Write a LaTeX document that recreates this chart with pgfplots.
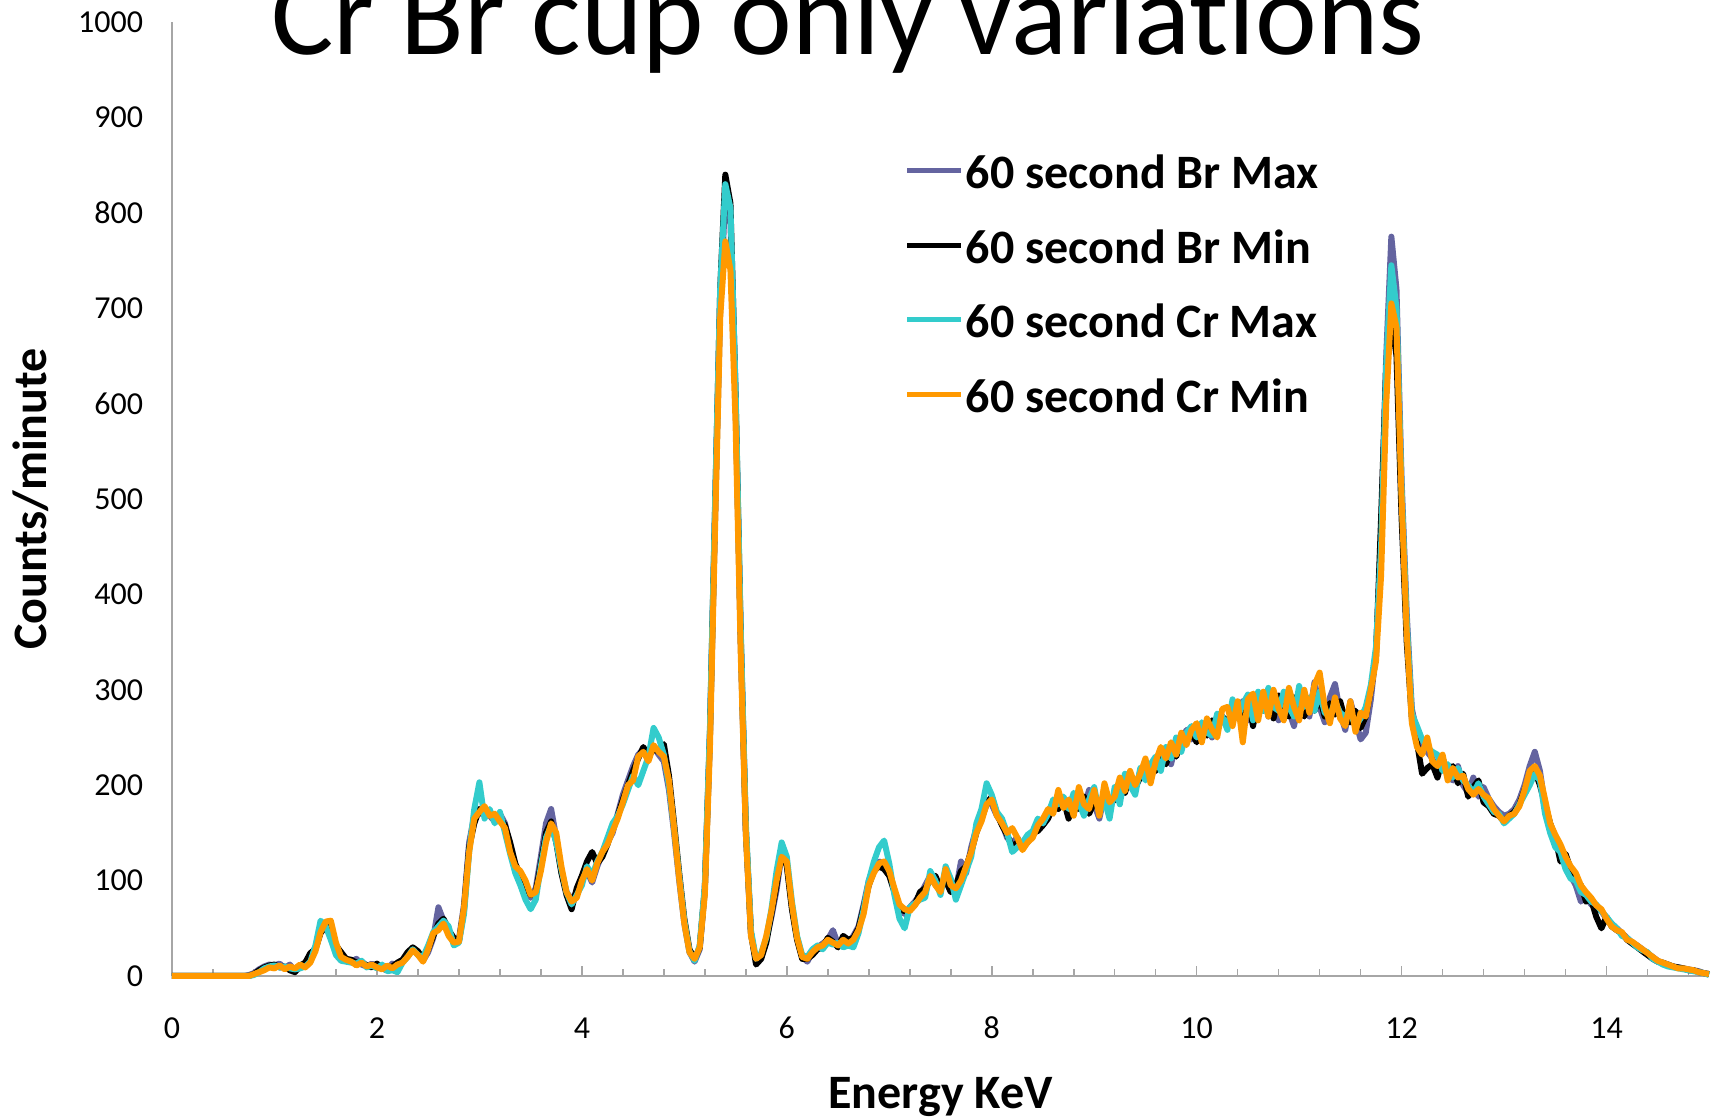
\documentclass[border=0pt]{standalone}
\usepackage{fontspec}
\setmainfont{Carlito}[Ligatures=NoCommon]
\usepackage{pgfplots}
\pgfplotsset{compat=1.18}
\usepackage{pgfplotstable}
\definecolor{brmax}{HTML}{6464A0}
\definecolor{brmin}{HTML}{000000}
\definecolor{crmax}{HTML}{33CCCC}
\definecolor{crmin}{HTML}{FF9900}
\definecolor{axgray}{HTML}{A6A6A6}

\pgfplotstableread{
E A B C D
0 0 0 0 0
0.35 0 0 0 0
0.7 0 0 0 0
0.75 1 0 0 0
0.8 3 2 1 2
0.85 7 6 4 4
0.9 10 9 8 6
0.95 12 11 10 9
1.0 11 12 11 8
1.05 13 9 9 11
1.1 8 10 10 7
1.15 12 6 8 10
1.2 5 4 7 8
1.25 9 11 8 12
1.3 12 14 10 9
1.35 22 24 15 14
1.4 30 28 32 26
1.45 48 45 58 46
1.5 55 52 52 57
1.55 45 50 38 58
1.6 28 32 22 35
1.65 20 25 16 20
1.7 16 18 15 17
1.75 15 17 14 15
1.8 18 14 13 11
1.85 12 15 16 14
1.9 10 11 9 10
1.95 13 9 11 12
2.0 9 13 8 9
2.05 11 8 12 7
2.1 7 6 5 11
2.15 13 10 6 8
2.2 10 14 4 12
2.25 16 17 14 14
2.3 22 25 20 20
2.35 28 30 28 27
2.4 24 26 22 22
2.45 16 18 20 15
2.5 25 28 32 28
2.55 40 42 46 45
2.6 72 55 52 48
2.65 58 60 58 55
2.7 45 48 52 42
2.75 35 40 32 35
2.8 38 36 35 36
2.85 75 70 65 72
2.9 140 135 130 130
2.95 168 160 175 165
3.0 170 175 203 172
3.05 172 168 165 178
3.1 168 170 175 168
3.15 162 165 160 170
3.2 170 166 172 162
3.25 160 158 150 155
3.3 135 140 128 130
3.35 112 118 108 115
3.4 100 105 95 110
3.45 90 92 80 100
3.5 82 85 70 85
3.55 92 88 80 88
3.6 125 118 115 110
3.65 160 150 145 140
3.7 175 162 158 160
3.75 145 140 140 150
3.8 110 108 112 115
3.85 88 85 88 88
3.9 80 70 75 78
3.95 88 92 85 82
4.0 100 105 95 100
4.05 110 120 115 112
4.1 98 130 105 100
4.15 115 118 120 118
4.2 128 125 130 130
4.25 140 138 145 138
4.3 150 155 160 152
4.35 170 168 168 165
4.4 190 185 180 182
4.45 205 200 195 200
4.5 220 215 210 205
4.55 232 228 200 230
4.6 238 240 215 235
4.65 235 230 230 225
4.7 240 238 260 242
4.75 232 235 250 235
4.8 225 243 232 230
4.85 195 210 200 205
4.9 150 160 155 155
4.95 100 108 105 102
5.0 55 60 58 55
5.05 25 28 26 25
5.1 15 18 16 18
5.15 28 30 32 30
5.2 90 92 95 85
5.25 250 255 260 240
5.3 480 490 495 470
5.35 700 720 720 690
5.4 820 840 830 770
5.45 790 810 805 740
5.5 600 610 615 580
5.55 350 360 365 340
5.6 150 155 160 150
5.65 45 45 48 42
5.7 15 12 18 18
5.75 22 18 24 22
5.8 38 35 40 42
5.85 62 65 70 68
5.9 90 95 110 100
5.95 128 132 140 125
6.0 118 115 125 120
6.05 72 70 78 75
6.1 40 38 42 40
6.15 20 18 22 20
6.2 15 18 20 18
6.25 25 22 28 25
6.3 30 28 32 30
6.35 34 30 28 32
6.4 38 40 35 38
6.45 48 36 33 35
6.5 33 30 35 32
6.55 38 42 30 38
6.6 35 38 32 34
6.65 42 40 30 38
6.7 52 50 45 48
6.75 75 72 70 65
6.8 100 95 100 95
6.85 115 110 120 108
6.9 120 115 135 118
6.95 118 112 142 120
7.0 108 105 118 110
7.05 90 88 85 92
7.1 72 70 60 75
7.15 65 68 50 70
7.2 72 70 72 68
7.25 78 75 76 74
7.3 85 88 80 82
7.35 95 92 82 88
7.4 105 100 110 105
7.45 98 105 100 95
7.5 90 92 85 88
7.55 108 100 115 112
7.6 100 88 102 95
7.65 90 95 80 92
7.7 120 110 95 100
7.75 108 115 110 115
7.8 135 130 125 130
7.85 155 150 160 150
7.9 170 165 175 162
7.95 185 180 202 180
8.0 180 188 190 185
8.05 168 170 172 168
8.1 160 158 165 160
8.15 145 148 150 150
8.2 140 135 130 155
8.25 145 140 135 145
8.3 135 138 140 132
8.35 140 145 148 140
8.4 148 150 152 145
8.45 155 152 165 158
8.5 160 158 160 165
8.55 168 165 170 175
8.6 175 178 185 170
8.65 185 175 180 195
8.7 178 185 188 176
8.75 182 165 175 185
8.8 170 180 192 168
8.85 190 175 182 198
8.9 175 188 168 180
8.95 195 170 185 175
9.0 180 182 198 195
9.05 165 176 170 168
9.1 190 192 185 202
9.15 175 180 165 182
9.2 192 185 198 188
9.25 195 205 180 208
9.3 208 192 212 194
9.35 198 210 200 215
9.4 196 198 190 200
9.45 215 208 218 212
9.5 222 210 205 228
9.55 208 218 222 202
9.6 228 215 230 225
9.65 226 228 215 240
9.7 235 222 240 228
9.75 222 238 228 245
9.8 245 230 250 232
9.85 240 245 235 255
9.9 258 246 255 242
9.95 248 255 262 258
10.0 262 245 250 265
10.05 248 262 266 245
10.1 265 252 255 270
10.15 250 268 252 258
10.2 272 258 275 250
10.25 268 272 272 280
10.3 262 266 258 282
10.35 282 278 290 262
10.4 270 285 272 288
10.45 288 272 285 245
10.5 268 292 295 290
10.55 285 262 268 296
10.6 275 290 298 268
10.65 295 278 278 298
10.7 272 295 302 272
10.75 288 270 282 300
10.8 268 294 278 280
10.85 296 276 298 268
10.9 278 272 282 302
10.95 262 292 272 282
11.0 290 280 304 268
11.05 295 272 282 300
11.1 272 290 292 276
11.15 308 278 278 305
11.2 282 292 298 318
11.25 266 272 276 282
11.3 292 286 272 265
11.35 306 274 288 292
11.4 276 288 276 270
11.45 258 268 272 262
11.5 288 266 276 288
11.55 268 278 262 256
11.6 248 260 270 276
11.65 255 272 282 272
11.7 290 300 305 300
11.75 340 335 345 330
11.8 460 480 450 420
11.85 650 640 640 600
11.9 775 690 745 705
11.95 720 650 700 680
12.0 520 480 510 500
12.05 380 350 370 360
12.1 280 270 275 265
12.15 255 245 262 240
12.2 240 212 248 232
12.25 235 218 240 250
12.3 228 222 235 225
12.35 212 208 232 220
12.4 225 228 215 232
12.45 210 215 222 205
12.5 205 220 208 218
12.55 220 202 218 208
12.6 200 212 205 210
12.65 192 188 200 196
12.7 208 198 192 190
12.75 188 205 202 196
12.8 198 182 188 190
12.85 186 178 180 186
12.9 178 170 172 175
12.95 172 168 170 168
13.0 168 162 160 162
13.05 170 168 165 168
13.1 175 172 170 170
13.15 185 180 180 178
13.2 200 195 190 195
13.25 220 210 200 215
13.3 235 215 212 220
13.35 215 200 205 210
13.4 178 180 170 185
13.45 155 160 150 160
13.5 142 145 135 148
13.55 128 120 130 138
13.6 118 128 112 125
13.65 105 112 102 115
13.7 95 102 100 108
13.75 78 95 88 95
13.8 85 78 85 88
13.85 75 80 78 82
13.9 72 62 75 74
13.95 68 50 68 70
14.0 60 62 62 60
14.05 55 52 55 52
14.1 50 48 50 48
14.15 45 45 42 46
14.2 40 38 40 38
14.25 35 34 35 36
14.3 32 30 30 32
14.35 28 26 27 28
14.4 24 22 25 24
14.45 20 18 18 20
14.5 16 15 15 16
14.55 13 14 12 14
14.6 11 12 10 12
14.65 10 10 9 10
14.7 9 9 8 8
14.75 8 8 7 8
14.8 7 6 6 7
14.85 6 6 5 6
14.9 5 4 4 4
14.95 3 3 3 3
15.0 2 2 1 2
}\spec

\begin{document}
\begin{tikzpicture}
\begin{axis}[
  at={(86pt,72pt)}, anchor=south west,
  scale only axis, width=768.5pt, height=477pt,
  xmin=0, xmax=15, ymin=0, ymax=1000,
  clip=false,
  axis x line=bottom, axis y line=left,
  axis line style={-, draw=axgray, line width=1pt},
  xtick={0,2,...,14},
  minor xtick={0.4,0.8,...,14.8},
  ytick={0,100,...,1000},
  xtick align=inside,
  major tick length=5pt, minor tick length=3.5pt,
  tick style={draw=axgray, line width=0.8pt},
  ytick style={draw=none},
  tick label style={font=\fontsize{16}{19}\selectfont, inner sep=0pt},
  /pgf/number format/assume math mode=true,
  /pgf/number format/1000 sep={},
  xticklabel style={anchor=base, yshift=-31pt},
  yticklabel style={anchor=east, xshift=-11.8pt},
  every axis y label/.style={at={(axis description cs:-0.0917,0.5)}, rotate=90, anchor=center, font=\bfseries\fontsize{24}{28}\selectfont},
  every axis x label/.style={at={(axis description cs:0.5,-0.127)}, anchor=center, font=\bfseries\fontsize{24}{28}\selectfont},
  xlabel={Energy KeV}, ylabel={Counts/minute},
  legend style={at={(axis description cs:0.4769,0.861)}, anchor=north west, draw=none, fill=none, inner sep=0pt, outer sep=0pt, row sep=20.3pt, /tikz/column sep=1pt, font=\bfseries\fontsize{24}{28}\selectfont, nodes={inner sep=0pt, text height=17pt, text depth=0pt}},
  legend cell align=left,
  legend image code/.code={\draw[#1, line width=2.4pt] (0pt,0.5pt) -- (27pt,0.5pt);},
]
\addplot[brmax, line width=3pt, line join=round] table[x=E,y=A]{\spec};
\addlegendentry{60 second Br Max}
\addplot[brmin, line width=3pt, line join=round] table[x=E,y=B]{\spec};
\addlegendentry{60 second Br Min}
\addplot[crmax, line width=3pt, line join=round] table[x=E,y=C]{\spec};
\addlegendentry{60 second Cr Max}
\addplot[crmin, line width=3pt, line join=round] table[x=E,y=D]{\spec};
\addlegendentry{60 second Cr Min}
\end{axis}
\node[anchor=base, font=\fontsize{58.5}{70}\selectfont, inner sep=0pt] at (424pt,532.5pt) {Cr Br cup only variations};
\pgfresetboundingbox
\path[use as bounding box] (0,0) rectangle (860.5pt,560pt);
\end{tikzpicture}
\end{document}
